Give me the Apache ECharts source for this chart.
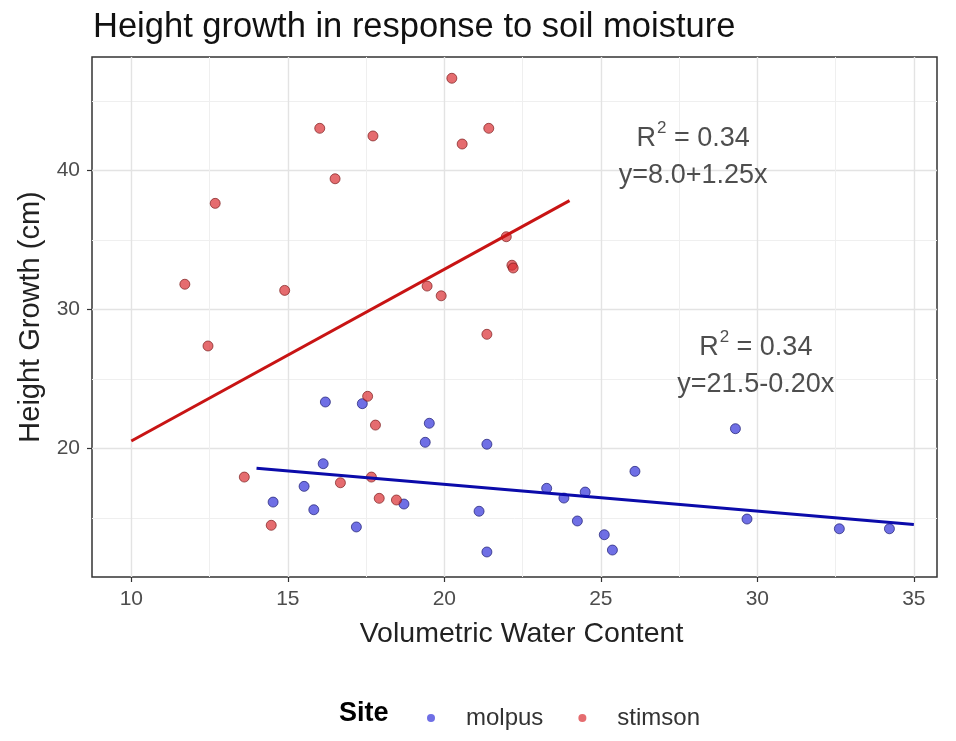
<!DOCTYPE html>
<html>
<head>
<meta charset="utf-8">
<script src="https://cdn.jsdelivr.net/npm/echarts@6/dist/echarts.min.js"></script>
<style>
html,body{margin:0;padding:0;background:#fff;}
#chart{width:956px;height:741px;}
</style>
</head>
<body>
<div id="chart"></div>
<script>
// ---- data ----
var molpusX = [16.2, 17.38, 19.52, 19.39, 21.36, 16.13, 15.52, 14.53, 15.83, 18.71, 21.11, 17.19, 21.36,
               29.3, 26.09, 23.27, 23.82, 24.5, 24.25, 25.11, 25.37, 29.67, 32.62, 34.22];
var molpusY = [23.36, 23.24, 21.83, 20.46, 20.32, 18.92, 17.29, 16.16, 15.61, 16.02, 15.5, 14.37, 12.57,
               21.44, 18.37, 17.15, 16.45, 16.88, 14.8, 13.81, 12.71, 14.94, 14.24, 14.24];
var stimsonX = [20.24, 16.02, 17.72, 21.42, 20.57, 16.51, 12.68, 11.71, 14.9, 19.45, 19.9, 21.98, 22.16, 22.2,
                12.45, 21.36, 17.55, 17.8, 13.61, 16.68, 17.67, 17.92, 18.47, 14.47];
var stimsonY = [46.65, 43.05, 42.5, 43.05, 41.92, 39.42, 37.65, 31.83, 31.39, 31.7, 31.0, 35.25, 33.2, 33.0,
                27.39, 28.23, 23.77, 21.7, 17.96, 17.55, 17.96, 16.43, 16.31, 14.49];
var molpusFitX = [14, 35];
var molpusFitY = [18.6, 14.55];
var stimsonFitX = [10, 24];
var stimsonFitY = [20.55, 37.85];
var xTicks = [10, 15, 20, 25, 30, 35];
var xMinorTicks = [12.5, 17.5, 22.5, 27.5, 32.5];
var yTicks = [20, 30, 40];
var yMinorTicks = [15, 25, 35, 45];
var siteNames = ['molpus', 'stimson'];
var stimsonLabel = ['0.34', 'y=8.0+1.25x'];
var molpusLabel = ['0.34', 'y=21.5-0.20x'];

function zip(xs, ys) { return xs.map(function (x, i) { return [x, ys[i]]; }); }

var FONT = '"Liberation Sans", Arial, sans-serif';
var chart = echarts.init(document.getElementById('chart'), null, {renderer: 'canvas'});

var majorGrid = {show: true, lineStyle: {color: '#e3e3e3', width: 1.4}};
var minorGrid = {show: true, lineStyle: {color: '#efefef', width: 1}};

function annotLabel(vals) {
  return {
    show: true,
    position: 'inside',
    formatter: '{r|R}{s|2}{r| = ' + vals[0] + '}\n{r|' + vals[1] + '}',
    rich: {
      r: {fontFamily: FONT, fontSize: 27, color: '#222', lineHeight: 37},
      s: {fontFamily: FONT, fontSize: 17, color: '#222', lineHeight: 37, verticalAlign: 'top', padding: [0, 0, 0, 1]}
    },
    align: 'center'
  };
}

var option = {
  backgroundColor: '#ffffff',
  animation: false,
  title: {
    text: 'Height growth in response to soil moisture',
    left: 88, top: 5,
    textStyle: {fontFamily: FONT, fontSize: 34.5, fontWeight: 'normal', color: '#111'}
  },
  grid: {left: 92, right: 19, top: 57, bottom: 164, show: true, borderColor: '#333', borderWidth: 1.5, backgroundColor: 'transparent', containLabel: false},
  xAxis: [{
    type: 'value', min: 8.744, max: 35.74,
    name: 'Volumetric Water Content', nameLocation: 'middle', nameGap: 43,
    nameTextStyle: {fontFamily: FONT, fontSize: 28.5, color: '#222', padding: [0, 0, 0, 14]},
    axisLine: {show: false},
    axisTick: {show: true, length: 5, customValues: xTicks, lineStyle: {color: '#333', width: 1.2}},
    axisLabel: {customValues: xTicks, fontFamily: FONT, fontSize: 21, color: '#4d4d4d', margin: 12},
    splitLine: majorGrid
  }, {
    type: 'value', min: 8.744, max: 35.74, position: 'bottom',
    axisLine: {show: false},
    axisTick: {show: false, customValues: xMinorTicks},
    axisLabel: {show: false, customValues: xMinorTicks},
    splitLine: minorGrid
  }],
  yAxis: [{
    type: 'value', min: 10.77, max: 48.18,
    name: 'Height Growth (cm)', nameLocation: 'middle', nameGap: 45, nameRotate: 90,
    nameTextStyle: {fontFamily: FONT, fontSize: 29, color: '#222'},
    axisLine: {show: false},
    axisTick: {show: true, length: 5, customValues: yTicks, lineStyle: {color: '#333', width: 1.2}},
    axisLabel: {customValues: yTicks, fontFamily: FONT, fontSize: 21, color: '#4d4d4d', margin: 12},
    splitLine: majorGrid
  }, {
    type: 'value', min: 10.77, max: 48.18, position: 'left',
    axisLine: {show: false},
    axisTick: {show: false, customValues: yMinorTicks},
    axisLabel: {show: false, customValues: yMinorTicks},
    splitLine: minorGrid
  }],
  legend: {
    data: siteNames,
    left: 422, top: 701,
    orient: 'horizontal',
    icon: 'circle',
    itemWidth: 60, itemHeight: 8, itemGap: 35,
    itemStyle: {borderWidth: 0},
    textStyle: {fontFamily: FONT, fontSize: 24, color: '#333'}
  },
  graphic: [{
    type: 'text', left: 339, top: 700,
    style: {text: 'Site', font: 'bold 27px ' + FONT, fill: '#000'}
  }],
  series: [
    {
      name: siteNames[0], type: 'scatter', data: zip(molpusX, molpusY), symbolSize: 10,
      itemStyle: {color: 'rgba(50,50,218,0.88)', borderColor: 'rgba(25,25,110,0.85)', borderWidth: 1}, z: 3
    },
    {
      name: siteNames[1], type: 'scatter', data: zip(stimsonX, stimsonY), symbolSize: 10,
      itemStyle: {color: 'rgba(218,45,50,0.88)', borderColor: 'rgba(120,25,25,0.85)', borderWidth: 1}, z: 3
    },
    {
      name: 'molpus fit', type: 'line', data: zip(molpusFitX, molpusFitY), showSymbol: false, symbol: 'none',
      lineStyle: {color: '#0b0baa', width: 3}, z: 4
    },
    {
      name: 'stimson fit', type: 'line', data: zip(stimsonFitX, stimsonFitY), showSymbol: false, symbol: 'none',
      lineStyle: {color: '#c81414', width: 3}, z: 4
    },
    {
      name: 'stimson annot', type: 'scatter', data: [[27.95, 41.0]], symbolSize: 1, silent: true,
      itemStyle: {color: 'rgba(0,0,0,0)'}, label: annotLabel(stimsonLabel), z: 5
    },
    {
      name: 'molpus annot', type: 'scatter', data: [[29.95, 25.95]], symbolSize: 1, silent: true,
      itemStyle: {color: 'rgba(0,0,0,0)'}, label: annotLabel(molpusLabel), z: 5
    }
  ]
};
chart.setOption(option);
</script>
</body>
</html>
